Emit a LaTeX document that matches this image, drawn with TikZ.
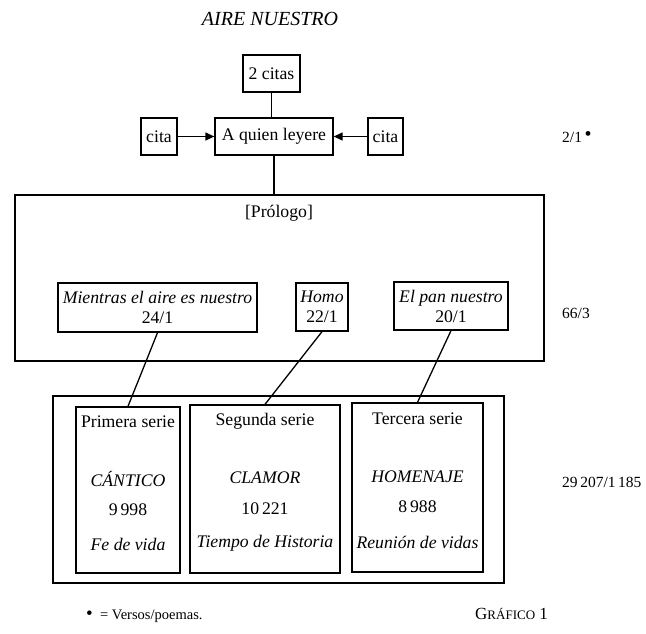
\documentclass[tikz,border=0pt]{standalone}
\usepackage{fontspec}
\setmainfont{Liberation Serif}
\usetikzlibrary{arrows.meta}
\newcommand\fsz{\fontsize{17.7}{20}\selectfont}
\newcommand\sidesz{\fontsize{15.5}{18}\selectfont}
\begin{document}
\begin{tikzpicture}[x=1pt,y=-1pt,
  box/.style={draw,line width=1.3pt,inner sep=0pt,align=center,font=\fsz},
  txt/.style={inner sep=0pt,font=\fsz,align=center},
  side/.style={inner sep=0pt,anchor=west,font=\sidesz},
  conn/.style={line width=1.3pt},
  arr/.style={line width=1.3pt,-{Triangle[length=9pt,width=8pt]}}]
\useasboundingbox (0,0) rectangle (646,633);
% title
\node[txt,font=\fontsize{20}{22}\selectfont\itshape] (title) at (270,19) {AIRE NUESTRO};
% top boxes
\node[box,minimum width=57,minimum height=37] (twocitas) at (271.5,73.5) {2 citas};
\node[box,minimum width=118,minimum height=37] (quien) at (274,136.5) {A quien leyere};
\node[box,minimum width=36,minimum height=37] (citaL) at (159,136.5) {cita};
\node[box,minimum width=35,minimum height=37] (citaR) at (385.5,136.5) {cita};
\node[side] (s1) at (562,137) {2/1\,\raisebox{2pt}{\fontsize{20}{20}\selectfont •}};
% prologue
\node[box,minimum width=529,minimum height=166] (prologo) at (279.5,278) {};
\node[txt] (prtitle) at (279,213) {[Prólogo]};
\node[box,minimum width=199,minimum height=49] (mientras) at (157.5,307.5) {\textit{Mientras el aire es nuestro}\\24/1};
\node[box,minimum width=52,minimum height=48] (homo) at (322,307) {\textit{Homo}\\22/1};
\node[box,minimum width=114,minimum height=48] (pan) at (451,306) {\textit{El pan nuestro}\\20/1};
\node[side] (s2) at (562,313) {66/3};
% series
\node[box,minimum width=451,minimum height=187] (outer) at (278.5,489.5) {};
\node[box,minimum width=104,minimum height=166] (primera) at (128,490) {};
\node[box,minimum width=150,minimum height=168] (segunda) at (265,489) {};
\node[box,minimum width=131,minimum height=169] (tercera) at (417.5,487.5) {};
\node[txt] (p1) at (128,422) {Primera serie};
\node[txt] (p2) at (128,479) {\textit{CÁNTICO}};
\node[txt] (p3) at (128,510) {9\,998};
\node[txt] (p4) at (128,544) {\textit{Fe de vida}};
\node[txt] (g1) at (265,421) {Segunda serie};
\node[txt] (g2) at (265,478) {\textit{CLAMOR}};
\node[txt] (g3) at (265,509) {10\,221};
\node[txt] (g4) at (265,543) {\textit{Tiempo de Historia}};
\node[txt] (t1) at (417.5,419) {Tercera serie};
\node[txt] (t2) at (417.5,477) {\textit{HOMENAJE}};
\node[txt] (t3) at (417.5,507) {8\,988};
\node[txt] (t4) at (417.5,542) {\textit{Reunión de vidas}};
\node[side] (s3) at (562,482) {29\,207/1\,185};
% footer
\node[side,font=\fontsize{14.5}{16}\selectfont] (foot) at (86,616) {{\fontsize{19}{16}\selectfont •}\enspace = Versos/poemas.};
\node[side] (graf) at (475,614) {\fontsize{17}{18}\selectfont G{\fontsize{13}{14}\selectfont RÁFICO} 1};
% connectors
\draw[conn] (twocitas.south) -- (twocitas.south |- quien.north);
\draw[conn] (quien.south) -- (quien.south |- prologo.north);
\draw[arr] (citaL.east) -- (quien.west);
\draw[arr] (citaR.west) -- (quien.east);
\draw[conn] (mientras.south) -- (primera.north);
\draw[conn] (homo.south) -- (segunda.north);
\draw[conn] (pan.south) -- (tercera.north);
\end{tikzpicture}
\end{document}
